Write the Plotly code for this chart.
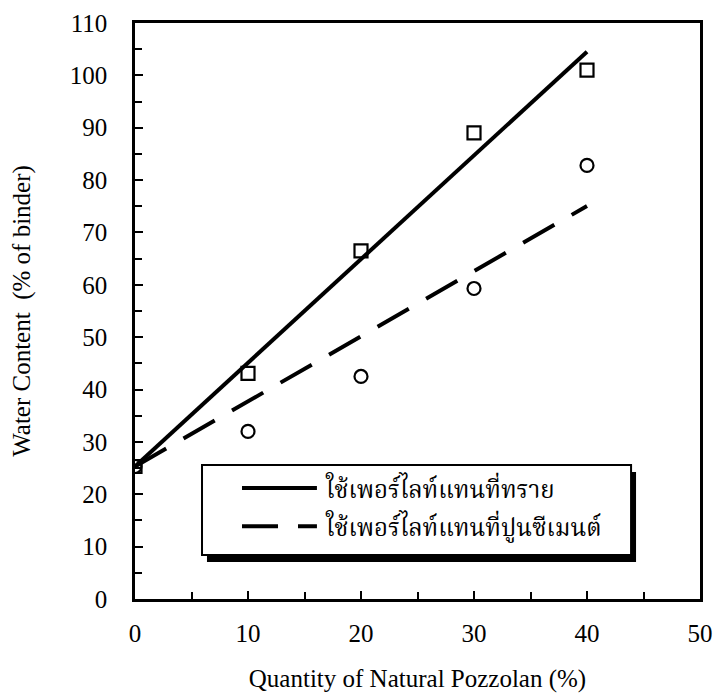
import numpy as np
import plotly.graph_objects as go

# ---- data ----
pozzolan = [0, 10, 20, 30, 40]
water_sand = [25.3, 43.1, 66.5, 89.0, 101.0]      # squares: replacing sand
water_cement = [25.3, 32.0, 42.5, 59.3, 82.8]     # circles: replacing cement
legend_labels = ["ใช้เพอร์ไลท์แทนที่ทราย", "ใช้เพอร์ไลท์แทนที่ปูนซีเมนต์"]
x_ticks = [0, 10, 20, 30, 40, 50]
y_ticks = list(range(0, 111, 10))


def trend_fixed_intercept(x, y):
    x = np.asarray(x, float)
    y = np.asarray(y, float)
    b = y[0]
    m = np.sum(x * (y - b)) / np.sum(x * x)
    return [float(b + m * xi) for xi in (x[0], x[-1])]


fit_sand = trend_fixed_intercept(pozzolan, water_sand)
fit_cement = trend_fixed_intercept(pozzolan, water_cement)
fit_x = [pozzolan[0], pozzolan[-1]]

SERIF = "Liberation Serif, Times New Roman, serif"
THAI = "Liberation Serif, Noto Serif Thai, Noto Sans Thai Looped, Noto Sans Thai, serif"

fig = go.Figure()
fig.add_trace(go.Scatter(x=fit_x, y=fit_sand, mode="lines",
                         line=dict(color="black", width=4), showlegend=False))
fig.add_trace(go.Scatter(x=fit_x, y=fit_cement, mode="lines",
                         line=dict(color="black", width=4, dash="36px,20px"), showlegend=False))
fig.add_trace(go.Scatter(x=pozzolan, y=water_sand, mode="markers",
                         marker=dict(symbol="square-open", size=13, color="black",
                                     line=dict(width=2.2, color="black")), showlegend=False))
fig.add_trace(go.Scatter(x=pozzolan, y=water_cement, mode="markers",
                         marker=dict(symbol="circle-open", size=13, color="black",
                                     line=dict(width=2.2, color="black")), showlegend=False))

# ---- manual legend (box with drop shadow) ----
L, R, T, B = 5.93, 43.9, 25.6, 8.4
dx, dy = 0.44, 1.34
fig.add_shape(type="rect", x0=L + dx, x1=R + dx, y0=B - dy, y1=T - dy,
              xref="x", yref="y", line=dict(width=0), fillcolor="black", layer="above")
fig.add_shape(type="rect", x0=L, x1=R, y0=B, y1=T,
              xref="x", yref="y", line=dict(width=2, color="black"), fillcolor="white", layer="above")
rows = [21.2, 13.9]
dashes = ["solid", "36px,20px"]
for yy, dsh, lab in zip(rows, dashes, legend_labels):
    fig.add_shape(type="line", x0=9.47, x1=16.1, y0=yy, y1=yy, xref="x", yref="y",
                  line=dict(color="black", width=4, dash=dsh), layer="above")
    fig.add_annotation(x=16.6, y=yy, xref="x", yref="y", text=lab, showarrow=False,
                       xanchor="left", yanchor="middle",
                       font=dict(family=THAI, size=24, color="black"))

axis_common = dict(showgrid=False, zeroline=False, showline=True, linecolor="black",
                   linewidth=2.5, mirror=True, ticks="inside", tickcolor="black",
                   tickwidth=2, ticklen=8, automargin=False,
                   tickfont=dict(family=SERIF, size=25, color="black"))

fig.update_xaxes(range=[0, 50], tickvals=x_ticks, minor=dict(dtick=5, ticks="inside", ticklen=7,
                 tickwidth=2, tickcolor="black"),
                 title=dict(text="Quantity of Natural Pozzolan (%)", standoff=26,
                            font=dict(family=SERIF, size=25, color="black")),
                 ticklabelstandoff=10, **axis_common)
fig.update_yaxes(range=[0, 110], tickvals=y_ticks, minor=dict(dtick=5, ticks="inside", ticklen=7,
                 tickwidth=2, tickcolor="black"),
                 title=dict(text="Water Content \u00a0(% of binder)", standoff=33,
                            font=dict(family=SERIF, size=25, color="black")),
                 ticklabelstandoff=20, **axis_common)

fig.update_layout(width=716, height=693, margin=dict(l=135, r=16, t=23, b=94),
                  plot_bgcolor="white", paper_bgcolor="white", showlegend=False)

fig.write_html("out.html")
